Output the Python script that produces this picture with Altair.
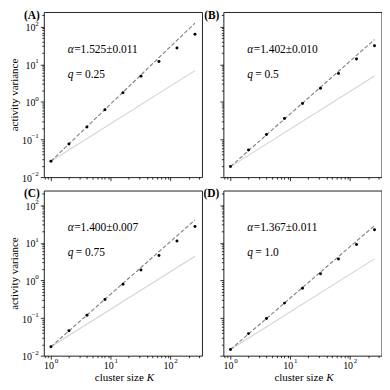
import altair as alt
import pandas as pd

# ---- data ----
K = [1, 2, 4, 8, 16, 32, 64, 128, 256]
var_A = [0.0264, 0.0757, 0.216, 0.62, 1.75, 4.8, 11.9, 26.9, 63.0]
var_B = [0.019, 0.0525, 0.136, 0.36, 0.91, 2.31, 5.65, 13.8, 31.0]
var_C = [0.0172, 0.046, 0.119, 0.312, 0.785, 1.9, 4.6, 11.2, 27.1]
var_D = [0.0146, 0.0385, 0.0968, 0.249, 0.617, 1.5, 3.7, 8.95, 22.1]

line_K = [1, 256]
fit_A = [0.0264, 124.0]
fit_B = [0.019, 45.2]
fit_C = [0.0172, 40.4]
fit_D = [0.0146, 28.6]
ref_A = [0.0264, 6.76]
ref_B = [0.019, 4.86]
ref_C = [0.0172, 4.4]
ref_D = [0.0146, 3.74]

panel_labels = ["(A)", "(B)", "(C)", "(D)"]
alpha_texts = ["=1.525±0.011", "=1.402±0.010", "=1.400±0.007", "=1.367±0.011"]
q_texts = ["0.25", "0.5", "0.75", "1.0"]

x_major = [1, 10, 100]
x_minor = [0.8, 0.9, 2, 3, 4, 5, 6, 7, 8, 9, 20, 30, 40, 50, 60, 70, 80, 90, 200, 300]
y_major = [0.01, 0.1, 1, 10, 100]
y_minor = [0.02, 0.03, 0.04, 0.05, 0.06, 0.07, 0.08, 0.09,
           0.2, 0.3, 0.4, 0.5, 0.6, 0.7, 0.8, 0.9,
           2, 3, 4, 5, 6, 7, 8, 9, 20, 30, 40, 50, 60, 70, 80, 90, 200]

XDOM = [0.76, 335]
YDOM = [0.01, 245]
W, H = 159, 166
FONT = "Liberation Serif"

EXP = "round(log(datum.value)/LN10)"
exp_expr = f"{EXP} < 0 ? '\u2212' + abs({EXP}) : '' + {EXP}"


def axes_for(show_xlab, show_ylab):
    common = dict(domain=False, grid=False, title=None)
    x_main = alt.Axis(values=x_major, labelExpr="'10'", labels=show_xlab, tickSize=3.5,
                      orient="bottom", labelPadding=1, labelOffset=-2.5, labelFontSize=10,
                      **common)
    x_exp = alt.Axis(values=x_major, labelExpr=exp_expr, labels=show_xlab, tickSize=3.5,
                     tickOpacity=0, orient="bottom", labelPadding=-2.5, labelOffset=5,
                     labelFontSize=7, **common)
    x_min = alt.Axis(values=x_minor, labels=False, tickSize=2, orient="bottom", **common)
    ykw = dict(domain=False, grid=False)
    if show_ylab:
        y_main = alt.Axis(values=y_major, labelExpr="'10'", labels=True, tickSize=3.5,
                          orient="left", labelFontSize=10, labelOffset=1,
                          labelPadding={"condition": {"test": "datum.value < 0.5", "value": 9.0},
                                        "value": 5.5},
                          title="activity variance", titlePadding=2, **ykw)
    else:
        y_main = alt.Axis(values=y_major, labels=False, tickSize=3.5, orient="left",
                          title=None, **ykw)
    y_exp = alt.Axis(values=y_major, labelExpr=exp_expr, labels=show_ylab, tickSize=3.5,
                     tickOpacity=0, orient="left", labelPadding=2, labelOffset=-3.5,
                     labelFontSize=7, title=None, **ykw)
    y_min = alt.Axis(values=y_minor, labels=False, tickSize=2, orient="left", title=None, **ykw)
    return (x_main, x_exp, x_min), (y_main, y_exp, y_min)


def panel(idx, var, fit, ref, show_xlab, show_ylab):
    xs = alt.Scale(type="log", domain=XDOM, nice=False)
    ys = alt.Scale(type="log", domain=YDOM, nice=False)
    pts = pd.DataFrame({"K": K, "v": var})
    fit_df = pd.DataFrame({"K": line_K, "v": fit})
    ref_df = pd.DataFrame({"K": line_K, "v": ref})
    (xa1, xa2, xa3), (ya1, ya2, ya3) = axes_for(show_xlab, show_ylab)

    ref_line = alt.Chart(ref_df).mark_line(color="#d4d4d4", strokeWidth=1.1).encode(
        x=alt.X("K:Q", scale=xs, axis=None), y=alt.Y("v:Q", scale=ys, axis=None))
    fit_line = alt.Chart(fit_df).mark_line(color="#7f7f7f", strokeWidth=1.1,
                                           strokeDash=[4, 2]).encode(
        x=alt.X("K:Q", scale=xs, axis=None), y=alt.Y("v:Q", scale=ys, axis=None))
    points = alt.Chart(pts).mark_circle(color="black", size=9, opacity=1).encode(
        x=alt.X("K:Q", scale=xs, axis=xa1), y=alt.Y("v:Q", scale=ys, axis=ya1))
    ax2 = alt.Chart(pts).mark_circle(opacity=0, size=1).encode(
        x=alt.X("K:Q", scale=xs, axis=xa2), y=alt.Y("v:Q", scale=ys, axis=ya2))
    ax3 = alt.Chart(pts).mark_circle(opacity=0, size=1).encode(
        x=alt.X("K:Q", scale=xs, axis=xa3), y=alt.Y("v:Q", scale=ys, axis=ya3))

    tdf = pd.DataFrame({"lab": [panel_labels[idx]], "a": [alpha_texts[idx]],
                        "q": ["= " + q_texts[idx]]})
    tb = alt.Chart(tdf)
    lab = tb.mark_text(font=FONT, fontSize=11.5, fontWeight="bold", align="right",
                       baseline="alphabetic", color="black").encode(
        text="lab:N", x=alt.value(-4), y=alt.value(7))
    a_sym = tb.mark_text(font=FONT, fontSize=11.5, fontStyle="italic", align="left",
                         baseline="middle", color="black", text="α").encode(
        x=alt.value(24), y=alt.value(38))
    a_txt = tb.mark_text(font=FONT, fontSize=11.5, align="left",
                         baseline="middle", color="black").encode(
        text="a:N", x=alt.value(30.5), y=alt.value(38))
    q_sym = tb.mark_text(font=FONT, fontSize=11.5, fontStyle="italic", align="left",
                         baseline="middle", color="black", text="q").encode(
        x=alt.value(24), y=alt.value(63))
    q_txt = tb.mark_text(font=FONT, fontSize=11.5, align="left",
                         baseline="middle", color="black").encode(
        text="q:N", x=alt.value(32), y=alt.value(63))
    layers = [ref_line, fit_line, points, ax2, ax3, lab, a_sym, a_txt, q_sym, q_txt]
    if show_xlab:
        xt1 = tb.mark_text(font=FONT, fontSize=11, align="right", baseline="middle",
                           color="black", text="cluster size").encode(
            x=alt.value(W / 2 + 21), y=alt.value(H + 22))
        xt2 = tb.mark_text(font=FONT, fontSize=11, fontStyle="italic", align="left",
                           baseline="middle", color="black", text="K").encode(
            x=alt.value(W / 2 + 24), y=alt.value(H + 22))
        layers += [xt1, xt2]
    return alt.layer(*layers).resolve_axis(x="independent", y="independent").properties(
        width=W, height=H)


pA = panel(0, var_A, fit_A, ref_A, False, True)
pB = panel(1, var_B, fit_B, ref_B, False, False)
pC = panel(2, var_C, fit_C, ref_C, True, True)
pD = panel(3, var_D, fit_D, ref_D, True, False)

chart = alt.concat(
    pA, pB, pC, pD, columns=2,
    spacing={"row": 13.5, "column": 21.5}, bounds="flush",
).properties(padding=0).configure_view(
    stroke="#222", strokeWidth=1
).configure_axis(
    labelFont=FONT, labelFontSize=10, labelColor="black",
    titleFont=FONT, titleFontSize=11, titleFontWeight="normal", titleColor="black",
    tickColor="black", tickWidth=0.8
)

chart.save("out.html", embed_options={"renderer": "svg", "actions": False})
